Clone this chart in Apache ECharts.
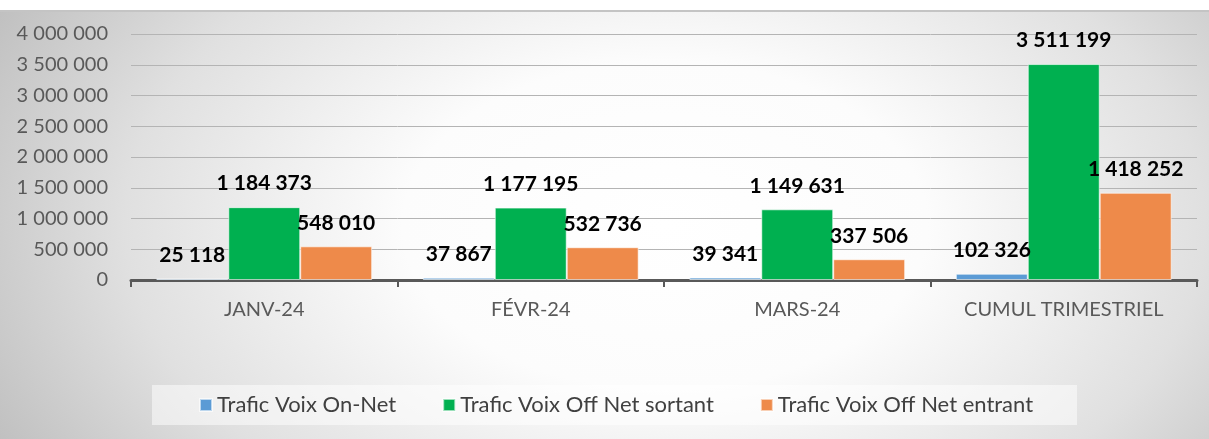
<!DOCTYPE html>
<html lang="fr">

<head>
    <title></title>
    <meta charset="UTF-8">
    <script src="https://cdn.jsdelivr.net/npm/echarts@6/dist/echarts.min.js"></script>
</head>
<style>
    body {
        margin: 0;
        padding: 0;
        background: #fff;
    }

    .top {
        width: 1209px;
        height: 10px;
        background: #fff;
        border-bottom: 2px solid #c4c4c4;
    }

    #main {
        width: 1209px;
        height: 427px;
        background: radial-gradient(ellipse 62% 110% at 55% 50%, #ffffff 0%, #fcfcfc 35%, #e0e0e0 72%, #c0c0c0 100%);
    }
</style>

<body>
    <div class="top"></div>
    <div id="main"></div>

    <script type="text/javascript">
        var categories = ['JANV-24', 'FÉVR-24', 'MARS-24', 'CUMUL TRIMESTRIEL'];
        var onNet = [25118, 37867, 39341, 102326];
        var offNetSortant = [1184373, 1177195, 1149631, 3511199];
        var offNetEntrant = [548010, 532736, 337506, 1418252];
        var yTicks = [0, 500000, 1000000, 1500000, 2000000, 2500000, 3000000, 3500000, 4000000];

        // séparateur de milliers avec espace
        function fmt(v) {
            return String(v).replace(/\B(?=(\d{3})+(?!\d))/g, ' ');
        }

        var myChart = echarts.init(document.getElementById('main'));

        var barLabel = {
            show: true,
            position: 'top',
            distance: 13,
            color: '#000',
            fontFamily: 'Lato',
            fontWeight: 'bold',
            fontSize: 21,
            formatter: function (p) { return fmt(p.value); }
        };

        function makeSeries(name, data, color) {
            return {
                name: name,
                type: 'bar',
                data: data,
                barGap: '0%',
                barCategoryGap: '19%',
                itemStyle: {
                    color: color,
                    borderColor: 'rgba(255,255,255,0.6)',
                    borderWidth: 1
                },
                label: barLabel
            };
        }

        option = {
            backgroundColor: 'transparent',
            animation: false,
            textStyle: { fontFamily: 'Lato' },
            grid: {
                left: 131,
                right: 12,
                top: 22,
                height: 246
            },
            legend: {
                left: 152,
                top: 373,
                padding: [9, 44, 9, 47],
                backgroundColor: 'rgba(255,255,255,0.5)',
                itemWidth: 12,
                itemHeight: 12,
                itemGap: 46,
                icon: 'rect',
                textStyle: { color: '#404040', fontSize: 22, fontFamily: 'Lato' },
                data: ['Trafic Voix On-Net', 'Trafic Voix Off Net sortant', 'Trafic Voix Off Net entrant']
            },
            xAxis: {
                type: 'category',
                data: categories,
                axisLine: { lineStyle: { color: '#595959', width: 3 } },
                axisTick: { show: true, length: 7, lineStyle: { color: '#595959', width: 2 } },
                axisLabel: { color: '#595959', fontSize: 20, margin: 20, fontFamily: 'Lato' }
            },
            yAxis: {
                type: 'value',
                min: yTicks[0],
                max: yTicks[yTicks.length - 1],
                interval: yTicks[1] - yTicks[0],
                axisLine: { show: false },
                axisTick: { show: false },
                splitLine: { lineStyle: { color: '#b4b4b4', width: 1 } },
                axisLabel: {
                    color: '#595959',
                    fontSize: 20,
                    margin: 23,
                    fontFamily: 'Lato',
                    formatter: function (v) { return fmt(v); }
                }
            },
            series: [
                makeSeries('Trafic Voix On-Net', onNet, '#5b9bd5'),
                makeSeries('Trafic Voix Off Net sortant', offNetSortant, '#00b050'),
                makeSeries('Trafic Voix Off Net entrant', offNetEntrant, '#ee8a4a')
            ]
        };
        myChart.setOption(option);
    </script>
</body>

</html>
